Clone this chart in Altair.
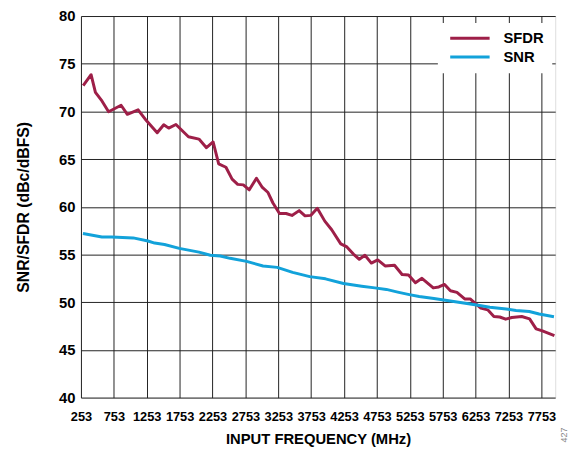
import altair as alt
import pandas as pd

# ---- data ----
sfdr_freq = [287, 407, 473, 572, 673, 863, 958, 1122, 1247, 1412, 1512, 1587, 1697, 1887, 2047,
             2161, 2262, 2347, 2457, 2551, 2636, 2722, 2812, 2921, 3011, 3097, 3172, 3271, 3371, 3461,
             3570, 3660, 3746, 3846, 3960, 4065, 4203, 4296, 4395, 4485, 4570, 4668, 4765, 4877, 5020,
             5135, 5233, 5338, 5437, 5609, 5694, 5781, 5870, 5969, 6087, 6170, 6245, 6332, 6437, 6531,
             6620, 6710, 6804, 6954, 7074, 7173, 7268, 7451]
sfdr_db = [72.7, 73.85, 72.0, 71.1, 69.97, 70.65, 69.7, 70.17, 69.04, 67.76, 68.6, 68.25, 68.63, 67.35, 67.1,
           66.2, 66.8, 64.5, 64.15, 62.9, 62.35, 62.3, 61.78, 63.0, 62.03, 61.5, 60.4, 59.3, 59.3, 59.1,
           59.6, 59.05, 59.1, 59.85, 58.5, 57.6, 56.12, 55.8, 55.05, 54.5, 54.92, 54.1, 54.43, 53.8, 53.87,
           52.9, 52.85, 52.05, 52.5, 51.5, 51.6, 51.86, 51.2, 51.03, 50.34, 50.34, 49.9, 49.38, 49.2, 48.5,
           48.45, 48.22, 48.4, 48.5, 48.25, 47.2, 46.99, 46.5]

snr_freq = [283, 572, 722, 1047, 1272, 1373, 1523, 1748, 2047, 2221, 2371, 2521, 2771, 3021, 3236,
            3471, 3731, 3971, 4245, 4521, 4720, 4896, 5069, 5245, 5395, 5619, 5819, 6020, 6269, 6469,
            6718, 6868, 7069, 7219, 7444]
snr_db = [57.2, 56.84, 56.84, 56.74, 56.42, 56.2, 56.05, 55.64, 55.25, 54.92, 54.85, 54.6, 54.28, 53.8, 53.65,
          53.13, 52.68, 52.45, 51.96, 51.68, 51.5, 51.34, 51.06, 50.8, 50.6, 50.38, 50.17, 49.97, 49.71, 49.48,
          49.28, 49.14, 49.02, 48.76, 48.48]

series_names = ["SFDR", "SNR"]
series_colors = ["#9E1F48", "#12A2DA"]

x_tick_values = [253, 753, 1253, 1753, 2253, 2753, 3253, 3753, 4253, 4753, 5253, 5753, 6253, 6753, 7253]
x_tick_labels = ["253", "753", "1253", "1753", "2253", "2753", "3253", "3753", "4253", "4753",
                 "5253", "5753", "6253", "7253", "7753"]
x_domain = [253, 7463]
y_tick_values = [40, 45, 50, 55, 60, 65, 70, 75, 80]
y_domain = [40, 80]
fig_note = ["427"]

df = pd.concat([
    pd.DataFrame({"freq": sfdr_freq, "db": sfdr_db, "series": series_names[0]}),
    pd.DataFrame({"freq": snr_freq, "db": snr_db, "series": series_names[1]}),
], ignore_index=True)

label_expr = ("[" + ",".join("'%s'" % l for l in x_tick_labels) + "][indexof(["
              + ",".join(str(v) for v in x_tick_values) + "], datum.value)]")

FONT = "Liberation Sans"
PLOT_W = 481
PLOT_H = 387

lines = alt.Chart(df).mark_line(strokeWidth=3, strokeJoin="round").encode(
    x=alt.X("freq:Q",
            scale=alt.Scale(domain=x_domain, nice=False, zero=False),
            axis=alt.Axis(values=x_tick_values, labelExpr=label_expr,
                          title="INPUT FREQUENCY (MHz)", grid=True, ticks=False, tickSize=0,
                          domain=False, labelFontSize=13, labelFontWeight="bold", labelFont=FONT,
                          labelColor="black", labelPadding=13, labelOverlap=False, labelFlush=False,
                          labelBound=False, titleFontSize=15, titleFont=FONT, titleFontWeight="bold",
                          titleColor="black", titlePadding=9, gridColor="#222222", gridWidth=1)),
    y=alt.Y("db:Q",
            scale=alt.Scale(domain=y_domain, nice=False, zero=False),
            axis=alt.Axis(values=y_tick_values, title="SNR/SFDR (dBc/dBFS)", grid=True,
                          ticks=False, tickSize=0, domain=False, labelFontSize=15,
                          labelFontWeight="bold", labelFont=FONT, labelColor="black", labelPadding=6,
                          labelOverlap=False, labelFlush=False, labelBound=False,
                          titleFontSize=16, titleFont=FONT, titleFontWeight="bold",
                          titleColor="black", titlePadding=28, gridColor="#222222", gridWidth=1)),
    color=alt.Color("series:N",
                    scale=alt.Scale(domain=series_names, range=series_colors),
                    legend=alt.Legend(title=None, orient="none", legendX=362, legendY=7,
                                      fillColor="white", padding=8,
                                      symbolType="M-3.33,0L3.33,0", symbolSize=144,
                                      symbolStrokeWidth=3, symbolOffset=17, labelOffset=26.5,
                                      rowPadding=3, labelFontSize=15, labelFont=FONT,
                                      labelFontWeight="bold", labelColor="black")),
)

note = alt.Chart(pd.DataFrame({"note": fig_note})).mark_text(
    angle=270, fontSize=9, font=FONT, color="#888888", align="center", baseline="middle"
).encode(
    text="note:N",
    x=alt.value(PLOT_W + 9),
    y=alt.value(PLOT_H + 38),
)

chart = alt.layer(lines, note).properties(
    width=PLOT_W,
    height=PLOT_H,
    autosize=alt.AutoSizeParams(type="none"),
    padding={"left": 74, "top": 5, "right": 14, "bottom": 50},
).configure_view(stroke="black", strokeWidth=2).configure(background="white")

chart.save("out.html", embed_options={"renderer": "svg", "actions": False})
